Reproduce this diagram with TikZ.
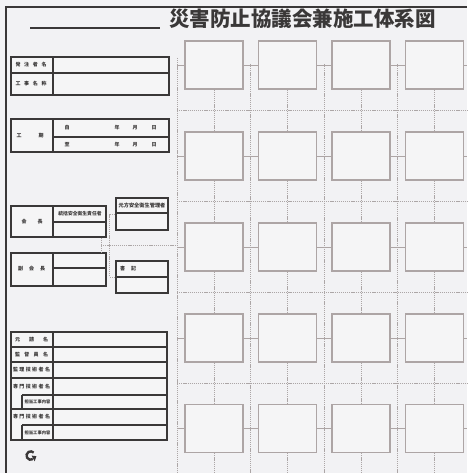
\documentclass[tikz,border=0pt]{standalone}
\usepackage{fontspec}
\newfontfamily\jp{Noto Sans CJK JP}
\definecolor{bgc}{HTML}{F2F2F4}
\definecolor{boxfill}{HTML}{F5F5F6}
\definecolor{lpc}{HTML}{3A3838}
\definecolor{gridc}{HTML}{ADA5A5}
\definecolor{dashc}{HTML}{ACA6A6}
\newcommand\spr[2]{\makebox[#1pt][s]{#2}}
\tikzset{
  gbox/.style={draw=gridc, line width=1.3pt, fill=boxfill, minimum width=58pt, minimum height=48pt, inner sep=0pt},
  lbox/.style={draw=lpc, line width=1.1pt, fill=boxfill, inner sep=0pt},
  dl/.style={draw=dashc, line width=1pt, dash pattern=on 1.2pt off 0.9pt},
  conn/.style={draw=gridc, line width=0.9pt},
  lp/.style={draw=lpc, line width=1.1pt},
  lbl/.style={font=\jp\bfseries\fontsize{5}{6}\selectfont, text=lpc, inner sep=0pt},
  slbl/.style={font=\jp\bfseries\fontsize{4.3}{5}\selectfont, text=lpc, inner sep=0pt},
}
\begin{document}
\begin{tikzpicture}[x=1pt,y=-1pt]
\fill[bgc] (0,0) rectangle (467,473);
\useasboundingbox (0,0) rectangle (467,473);
% frame
\draw[lpc, line width=1.2pt] (6,473) -- (6,7) -- (467,7);
% title
\draw[lpc, line width=1.4pt] (30,28) -- (160,28);
\node[font=\jp\bfseries\fontsize{20.5}{24}\selectfont, text=lpc, inner sep=0pt] (title) at (302.5,19) {災害防止協議会兼施工体系図};

% grid dashed lines
\draw[dl] (177,58) -- (177,473);
\foreach \x in {250.75,324.25,397.75} { \draw[dl] (\x,64) -- (\x,473); }
\foreach \y in {110.5,201.5,292.5,383.5} { \draw[dl] (177,\y) -- (467,\y); }

% grid boxes
\foreach \r/\y in {1/65,2/156,3/247,4/338,5/428.5} {
  \foreach \c/\x in {1/214,2/287.5,3/361,4/434.5} {
    \node[gbox] (g\r\c) at (\x,\y) {};
  }
  \draw[conn] (177,\y) -- (g\r1.west);
  \draw[conn] (g\r1.east) -- (g\r2.west);
  \draw[conn] (g\r2.east) -- (g\r3.west);
  \draw[conn] (g\r3.east) -- (g\r4.west);
  \draw[conn] (g\r4.east) -- (467,\y);
}
\foreach \c in {1,2,3,4} {
  \foreach \r/\n in {1/2,2/3,3/4,4/5} { \draw[dl] (g\r\c.south) -- (g\n\c.north); }
  \draw[dl] (g5\c.south) -- ++(0,21);
}

% left panel: 発注者名 / 工事名称
\node[lbox, minimum width=158pt, minimum height=38pt] (b1) at (90,76) {};
\draw[lp] (53,57) -- (53,95);
\draw[lp] (11,73) -- (169,73);
\node[lbl] (t1) at (31,65) {\spr{31}{発 注 者 名}};
\node[lbl] (t2) at (31,84) {\spr{31}{工 事 名 称}};

% 工期
\node[lbox, minimum width=158pt, minimum height=33pt] (b2) at (90,135.5) {};
\draw[lp] (53,119) -- (53,152);
\draw[lp] (53,137) -- (169,137);
\node[lbl] (t3) at (30,136) {\spr{27}{工 期}};
\node[lbl] (k1) at (67,128) {自};
\node[lbl] (k2) at (117,128) {年};
\node[lbl] (k3) at (135,128) {月};
\node[lbl] (k4) at (154,128) {日};
\node[lbl] (k5) at (67,144.5) {至};
\node[lbl] (k6) at (117,144.5) {年};
\node[lbl] (k7) at (135,144.5) {月};
\node[lbl] (k8) at (154,144.5) {日};

% 会長
\node[lbox, minimum width=95pt, minimum height=31pt] (kai) at (58.5,221.5) {};
\draw[lp] (53,206) -- (53,237);
\draw[lp] (53,222) -- (106,222);
\node[lbl] (t4) at (32,222) {\spr{21}{会 長}};
\node[lbl, font=\jp\bfseries\fontsize{4.8}{5}\selectfont] (t5) at (80,214) {統括安全衛生責任者};

% 元方安全衛生管理者
\node[lbox, minimum width=52pt, minimum height=32pt] (moto) at (142,214) {};
\draw[lp] (116,213) -- (168,213);
\node[lbl, font=\jp\bfseries\fontsize{5.2}{6}\selectfont] (t6) at (142,206) {元方安全衛生管理者};

% 副会長
\node[lbox, minimum width=95pt, minimum height=33pt] (fuku) at (58.5,269.5) {};
\draw[lp] (53,253) -- (53,286);
\draw[lp] (53,268) -- (106,268);
\node[lbl] (t7) at (31.5,269) {\spr{27}{副 会 長}};

% 書記
\node[lbox, minimum width=52pt, minimum height=32pt] (sho) at (142,277) {};
\draw[lp] (116,277) -- (168,277);
\node[lbl, anchor=west] (t8) at (120,269) {書\hspace{6pt}記};

% connectors left panel
\coordinate (j1) at (101,245);
\coordinate (gl) at (177,245);
\draw[dl] (kai.south -| j1) -- (fuku.north -| j1);
\draw[dl] (j1) -- (gl);
\draw[dl] (moto.west) -- ++(-6,0) |- (sho.west);

% big table
\node[lbox, minimum width=156pt, minimum height=108pt] (big) at (89,386) {};
\draw[lp] (53,332) -- (53,440);
\foreach \y in {347,362,378,409} { \draw[lp] (11,\y) -- (167,\y); }
\foreach \y in {395,425} { \draw[lp] (22,\y) -- (167,\y); }
\draw[lp] (22,395) -- (22,409);
\draw[lp] (22,425) -- (22,440);
\node[lbl] (u1) at (31.5,339.5) {\spr{33}{元 請 名}};
\node[lbl] (u2) at (31.5,354.5) {\spr{33}{監 督 員 名}};
\node[lbl] (u3) at (31.5,370) {\spr{37}{監 理 技 術 者 名}};
\node[lbl] (u4) at (31.5,386.5) {\spr{37}{専 門 技 術 者 名}};
\node[slbl] (u5) at (37.5,402) {担当工事内容};
\node[lbl] (u6) at (31.5,417) {\spr{37}{専 門 技 術 者 名}};
\node[slbl] (u7) at (37.5,432.5) {担当工事内容};

% icon
\draw[lpc, line width=2.4pt] (32.8,459.2) arc[start angle=60, end angle=315, radius=4.2];
\fill[lpc] (31.6,455.6) -- (36.4,456.2) -- (34.6,461.4) -- cycle;
\end{tikzpicture}
\end{document}
